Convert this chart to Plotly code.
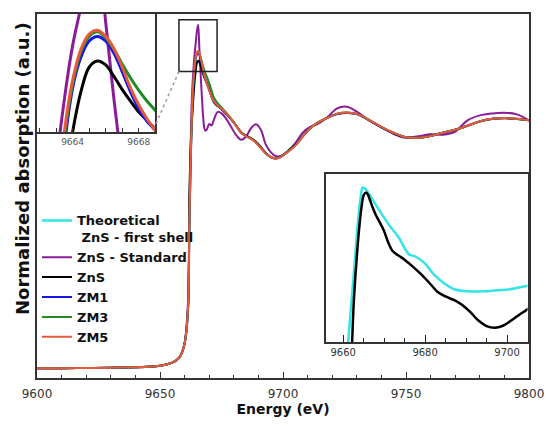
import plotly.graph_objects as go

# Energy grid (eV) shared by the measured spectra
energy = [9600, 9610, 9620, 9630, 9640, 9645, 9650, 9653, 9656, 9658,
          9659, 9660, 9660.5, 9661, 9661.5, 9662, 9662.5, 9663, 9663.5, 9664,
          9664.5, 9665, 9665.5, 9666, 9666.5, 9667, 9667.5, 9668, 9668.5, 9669,
          9670, 9671, 9672, 9673.5, 9675, 9677, 9679, 9681, 9683, 9685,
          9687, 9689, 9691, 9693, 9695, 9697, 9699, 9701, 9703, 9705,
          9708, 9711, 9714, 9718, 9722, 9726, 9730, 9735, 9740, 9745,
          9750, 9755, 9760, 9765, 9770, 9775, 9780, 9785, 9790, 9795, 9800]

zns_standard = [0.000, 0.000, 0.001, 0.002, 0.004, 0.006, 0.010, 0.016, 0.028, 0.045,
                0.065, 0.100, 0.140, 0.200, 0.300, 0.660, 0.920, 1.100, 1.190, 1.260,
                1.310, 1.360, 1.386, 1.290, 1.190, 1.100, 1.020, 0.970, 0.958, 0.962,
                0.985, 0.979, 1.005, 1.034, 1.028, 1.005, 0.972, 0.940, 0.922, 0.935,
                0.968, 0.984, 0.962, 0.902, 0.872, 0.856, 0.856, 0.866, 0.885, 0.908,
                0.950, 0.974, 0.985, 1.012, 1.048, 1.055, 1.035, 1.000, 0.972, 0.945,
                0.930, 0.936, 0.944, 0.942, 0.955, 1.000, 1.020, 1.028, 1.031, 1.024, 1.000]

zns = [0.000, 0.000, 0.001, 0.002, 0.004, 0.006, 0.010, 0.016, 0.028, 0.045,
       0.065, 0.100, 0.130, 0.180, 0.260, 0.720, 0.900, 1.000, 1.080, 1.148,
       1.200, 1.232, 1.240, 1.235, 1.220, 1.203, 1.188, 1.174, 1.163, 1.152,
       1.128, 1.095, 1.071, 1.057, 1.045, 1.025, 1.003, 0.978, 0.952, 0.938,
       0.928, 0.914, 0.893, 0.868, 0.852, 0.847, 0.853, 0.868, 0.885, 0.901,
       0.935, 0.968, 0.990, 1.010, 1.025, 1.030, 1.025, 1.000, 0.972, 0.948,
       0.932, 0.930, 0.938, 0.950, 0.962, 0.978, 0.995, 1.005, 1.008, 1.005, 1.000]

zm1 = [0.000, 0.000, 0.001, 0.002, 0.004, 0.006, 0.010, 0.016, 0.028, 0.045,
       0.065, 0.100, 0.130, 0.180, 0.265, 0.600, 0.840, 1.020, 1.130, 1.205,
       1.245, 1.266, 1.272, 1.266, 1.250, 1.226, 1.200, 1.178, 1.162, 1.150,
       1.122, 1.094, 1.074, 1.059, 1.046, 1.027, 1.004, 0.978, 0.950, 0.936,
       0.926, 0.911, 0.889, 0.866, 0.852, 0.846, 0.852, 0.866, 0.881, 0.899,
       0.935, 0.968, 0.990, 1.010, 1.026, 1.031, 1.025, 1.001, 0.973, 0.949,
       0.932, 0.930, 0.937, 0.950, 0.962, 0.978, 0.996, 1.006, 1.009, 1.006, 1.000]

zm3 = [0.000, 0.000, 0.001, 0.002, 0.004, 0.006, 0.010, 0.016, 0.028, 0.045,
       0.065, 0.100, 0.130, 0.180, 0.265, 0.610, 0.850, 1.030, 1.140, 1.210,
       1.252, 1.272, 1.278, 1.270, 1.255, 1.236, 1.218, 1.202, 1.188, 1.176,
       1.150, 1.118, 1.090, 1.068, 1.052, 1.030, 1.006, 0.979, 0.951, 0.936,
       0.926, 0.911, 0.889, 0.867, 0.853, 0.847, 0.853, 0.867, 0.882, 0.899,
       0.935, 0.968, 0.990, 1.010, 1.027, 1.032, 1.026, 1.002, 0.974, 0.950,
       0.932, 0.930, 0.937, 0.950, 0.962, 0.978, 0.996, 1.006, 1.009, 1.006, 1.000]

zm5 = [0.000, 0.000, 0.001, 0.002, 0.004, 0.006, 0.010, 0.016, 0.028, 0.045,
       0.065, 0.100, 0.130, 0.180, 0.265, 0.620, 0.860, 1.040, 1.148, 1.215,
       1.255, 1.275, 1.280, 1.272, 1.256, 1.232, 1.205, 1.183, 1.165, 1.150,
       1.122, 1.095, 1.075, 1.060, 1.047, 1.028, 1.005, 0.978, 0.950, 0.935,
       0.925, 0.910, 0.888, 0.866, 0.852, 0.846, 0.852, 0.866, 0.880, 0.898,
       0.935, 0.968, 0.990, 1.010, 1.027, 1.032, 1.026, 1.002, 0.974, 0.950,
       0.932, 0.930, 0.937, 0.950, 0.962, 0.978, 0.996, 1.006, 1.009, 1.006, 1.000]

# Calculated first-shell spectrum (shown only in the near-edge panel)
theory_energy = [9655, 9658, 9660, 9661, 9662, 9662.8, 9663.5, 9664.2, 9664.8, 9665.5,
                 9666.8, 9668.8, 9671.2, 9673.6, 9676, 9677.5, 9679.9, 9682.3, 9684.7, 9687.1,
                 9690.3, 9694.3, 9697.5, 9700.7, 9705, 9707]
theory = [0.020, 0.060, 0.300, 0.760, 0.920, 1.033, 1.140, 1.220, 1.255, 1.250,
          1.227, 1.189, 1.146, 1.109, 1.061, 1.055, 1.035, 1.000, 0.976, 0.959,
          0.953, 0.953, 0.956, 0.959, 0.969, 0.973]

main_ticks = [9600, 9650, 9700, 9750, 9800]
main_labels = ["9600", "9650", "9700", "9750", "9800"]
inset_peak_ticks = [9662, 9663, 9664, 9665, 9666, 9667, 9668, 9669]
inset_peak_labels = ["", "", "9664", "", "", "", "9668", ""]
inset_edge_ticks = [9660, 9680, 9700]
inset_edge_labels = ["9660", "9680", "9700"]

series = [
    ("ZnS - Standard", zns_standard, "#8a1c98"),
    ("ZnS", zns, "#000000"),
    ("ZM1", zm1, "#1515e8"),
    ("ZM3", zm3, "#1f8a26"),
    ("ZM5", zm5, "#e65a3a"),
]

fig = go.Figure()

# legend entry for the calculated spectrum comes first
fig.add_trace(go.Scatter(
    x=theory_energy, y=theory, mode="lines", xaxis="x3", yaxis="y3",
    name="<b>Theoretical</b><br><b>\u00a0ZnS - first shell</b>", legendrank=1,
    line=dict(color="#33e3e8", width=2.5, shape="spline"),
))

for i, (name, vals, color) in enumerate(series):
    fig.add_trace(go.Scatter(
        x=energy, y=vals, mode="lines", name=f"<b>{name}</b>", legendrank=2 + i,
        line=dict(color=color, width=2, shape="spline"),
    ))

# magnified white-line peak
for name, vals, color in series:
    fig.add_trace(go.Scatter(
        x=energy, y=vals, mode="lines", xaxis="x2", yaxis="y2", showlegend=False,
        line=dict(color=color, width=3, shape="spline"),
    ))

# near-edge comparison of ZnS with the calculation
fig.add_trace(go.Scatter(
    x=energy, y=zns, mode="lines", xaxis="x3", yaxis="y3", showlegend=False,
    line=dict(color="#000000", width=2.5, shape="spline"),
))

axis_line = dict(showline=True, linecolor="#333333", linewidth=1.5, mirror=True,
                 showgrid=False, zeroline=False)

fig.update_layout(
    width=556, height=427,
    margin=dict(l=37, r=16, t=14, b=40),
    paper_bgcolor="white", plot_bgcolor="white",
    font=dict(family="DejaVu Sans, Arial, sans-serif", color="#222222"),
    showlegend=True,
    legend=dict(x=0.0, y=0.474, xanchor="left", yanchor="top",
                bgcolor="rgba(0,0,0,0)", valign="top", tracegroupgap=0,
                font=dict(family="DejaVu Sans, Arial, sans-serif", size=13, color="#111111"),
                itemwidth=30),
    xaxis=dict(range=[9600, 9800], domain=[0, 1], tickmode="array",
               tickvals=main_ticks, ticktext=main_labels,
               ticks="inside", ticklen=6, tickwidth=1.2, tickcolor="#333333",
               ticklabelstandoff=4,
               minor=dict(dtick=10, ticks="inside", ticklen=3, tickcolor="#333333"),
               tickfont=dict(size=12, color="#333333"),
               title=dict(text="<b>Energy (eV)</b>", standoff=4,
                          font=dict(size=14, color="#111111")),
               **axis_line),
    yaxis=dict(range=[-0.0394, 1.429], domain=[0, 1], showticklabels=False,
               ticks="", **axis_line),
    xaxis2=dict(range=[9661.85, 9669.0], domain=[0, 0.2406], anchor="y2",
                tickmode="array", tickvals=inset_peak_ticks, ticktext=inset_peak_labels,
                ticks="inside", ticklen=4, tickcolor="#333333",
                tickfont=dict(size=9, color="#555555"), **axis_line),
    yaxis2=dict(range=[1.148, 1.301], domain=[0.6756, 1.0], anchor="x2",
                showticklabels=False, ticks="", **axis_line),
    xaxis3=dict(range=[9655.7, 9705.0], domain=[0.5865, 0.997], anchor="y3",
                tickmode="array", tickvals=inset_edge_ticks, ticktext=inset_edge_labels,
                ticks="inside", ticklen=7, tickcolor="#222222",
                minor=dict(dtick=5, ticks="inside", ticklen=4, tickcolor="#222222"),
                tickfont=dict(size=10, color="#333333"), **axis_line),
    yaxis3=dict(range=[0.806, 1.294], domain=[0.0992, 0.5603], anchor="x3",
                showticklabels=False, ticks="", **axis_line),
    shapes=[
        # frame marking the magnified region
        dict(type="rect", xref="x", yref="y", x0=9657.7, x1=9673.2, y0=1.197, y1=1.406,
             line=dict(color="#222222", width=1.5), layer="above"),
        dict(type="line", xref="x", yref="y", x0=9657.7, y0=1.197, x1=9647.7, y1=0.972,
             line=dict(color="#999999", width=1.5, dash="dot"), layer="above"),
    ],
    annotations=[
        dict(text="<b>Normalized absorption (a.u.)</b>", textangle=-90,
             xref="paper", yref="paper", x=-0.030, y=0.575,
             xanchor="center", yanchor="middle", showarrow=False,
             font=dict(family="DejaVu Sans, Arial, sans-serif", size=18, color="#111111")),
    ],
)

fig.write_html("out.html")
